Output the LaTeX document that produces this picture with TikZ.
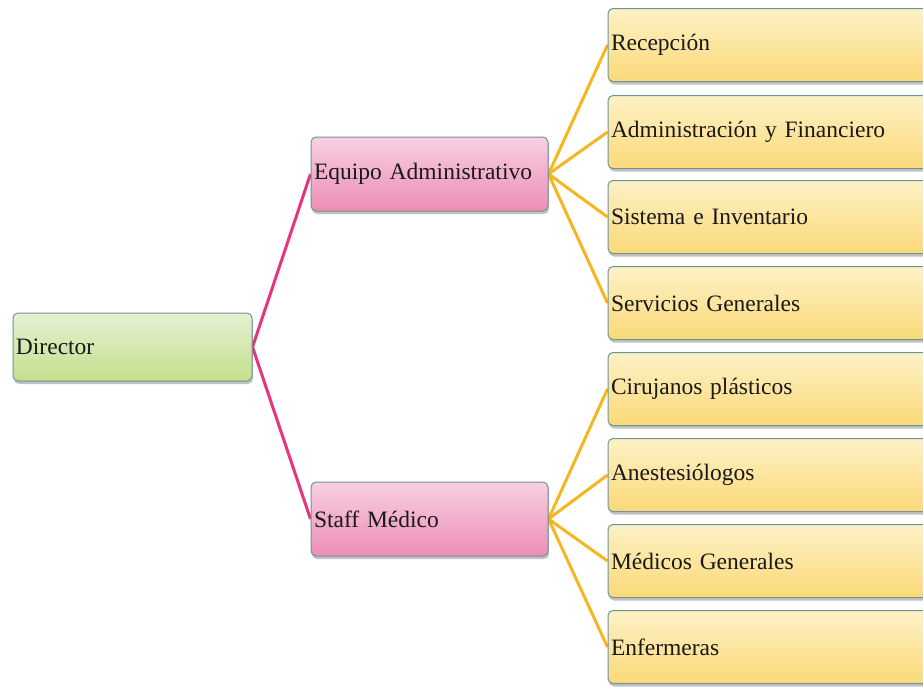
\documentclass[tikz,border=0pt]{standalone}
\usepackage{fontspec}
\setmainfont{Liberation Serif}
\usetikzlibrary{shadows,backgrounds}
\definecolor{gtop}{HTML}{E6F1D3}
\definecolor{gbot}{HTML}{C3DF8C}
\definecolor{ptop}{HTML}{F8D0E2}
\definecolor{pbot}{HTML}{EC8DB6}
\definecolor{ytop}{HTML}{FDF1C6}
\definecolor{ybot}{HTML}{FBD978}
\definecolor{bord}{HTML}{6E9494}
\definecolor{pinkline}{HTML}{E8347E}
\definecolor{orline}{HTML}{F6B622}
\tikzset{
  box/.style={draw=bord, line width=1pt, rounded corners=5pt, inner xsep=3pt,
    align=left, font=\fontsize{23.5}{26}\selectfont, text=black!90,
    drop shadow={shadow xshift=1pt, shadow yshift=-3pt, opacity=0.4, fill=black!60}},
  gbox/.style={box, top color=gtop, bottom color=gbot, text width=233pt, minimum height=68pt},
  pbox/.style={box, top color=ptop, bottom color=pbot, text width=231pt, minimum height=74pt},
  ybox/.style={box, top color=ytop, bottom color=ybot, text width=319pt, minimum height=73pt},
  pl/.style={pinkline, line width=3pt},
  ol/.style={orline, line width=3pt}
}
\begin{document}
\begin{tikzpicture}[x=1pt,y=-1pt]
\useasboundingbox (0,0) rectangle (923,686);
\node[gbox] (dir) at (132.5,347) {Director};
\node[pbox] (eq) at (429.5,174) {Equipo Administrativo};
\node[pbox] (st) at (429.5,519) {Staff Médico};
\node[ybox] (y1) at (770.5,45) {Recepción};
\node[ybox] (y2) at (770.5,132) {Administración y Financiero};
\node[ybox] (y3) at (770.5,217) {Sistema e Inventario};
\node[ybox] (y4) at (770.5,303) {Servicios Generales};
\node[ybox] (y5) at (770.5,389) {Cirujanos plásticos};
\node[ybox] (y6) at (770.5,475) {Anestesiólogos};
\node[ybox] (y7) at (770.5,561) {Médicos Generales};
\node[ybox] (y8) at (770.5,647) {Enfermeras};
\begin{scope}[on background layer]
\draw[pl] (dir.east) -- (eq.west);
\draw[pl] (dir.east) -- (st.west);
\foreach \t in {y1,y2,y3,y4}{\draw[ol] (eq.east) -- (\t.west);}
\foreach \t in {y5,y6,y7,y8}{\draw[ol] (st.east) -- (\t.west);}
\end{scope}
\end{tikzpicture}
\end{document}
